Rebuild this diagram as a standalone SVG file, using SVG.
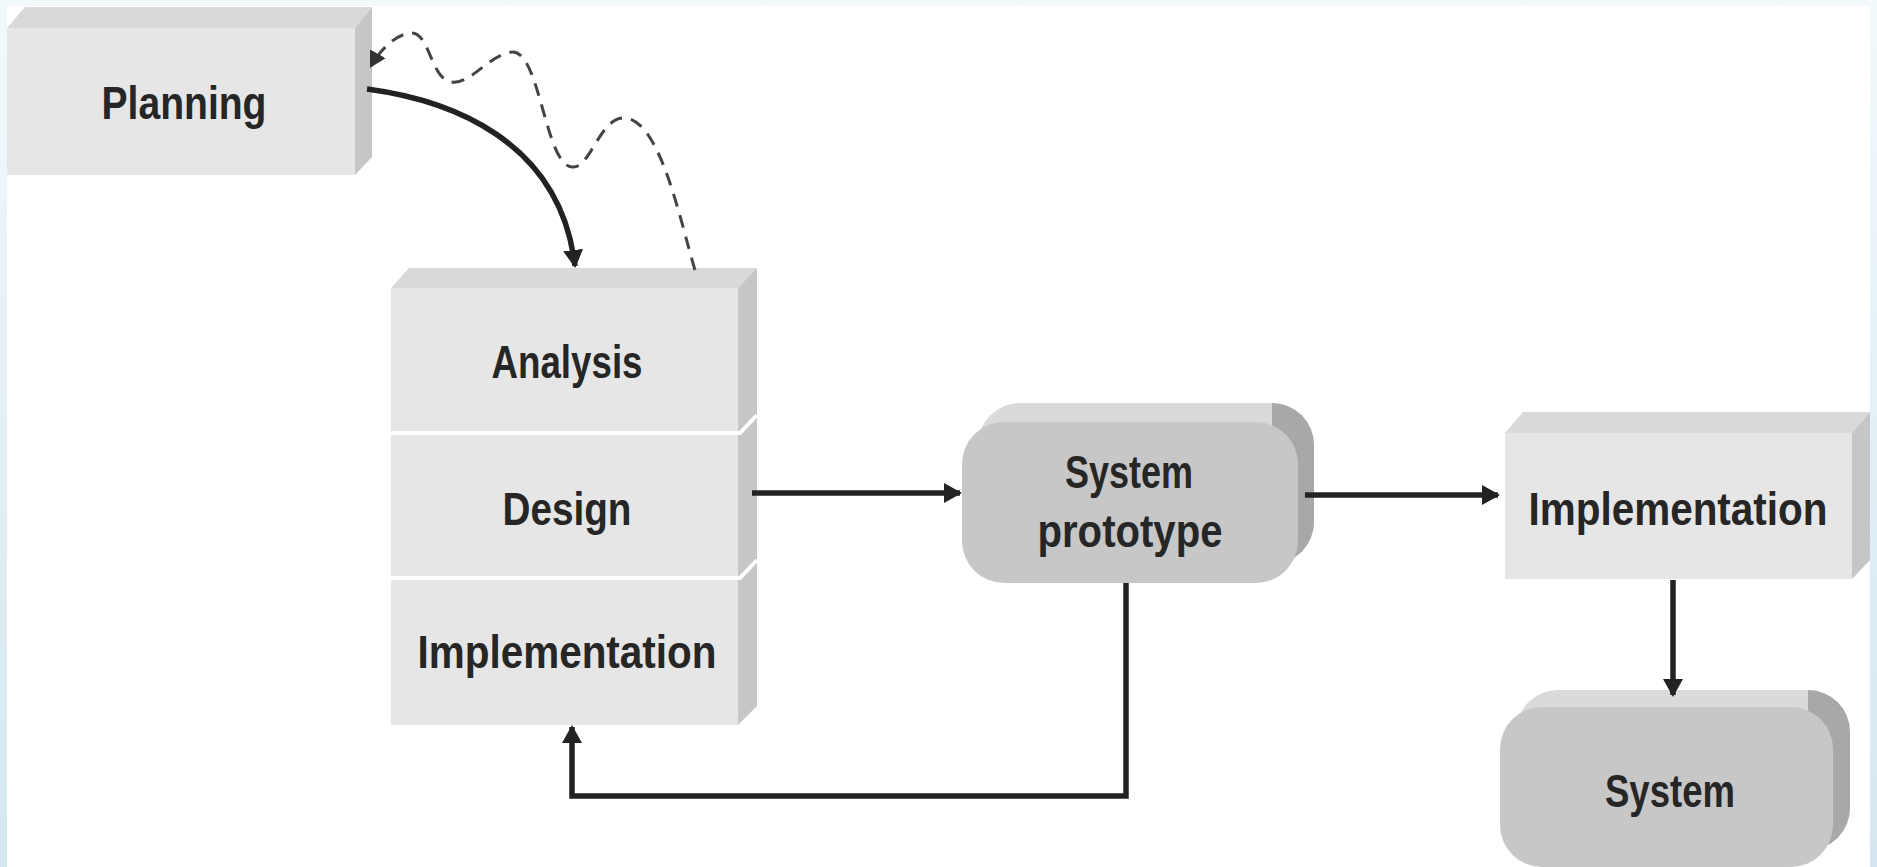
<svg xmlns="http://www.w3.org/2000/svg" width="1877" height="867" viewBox="0 0 1877 867">
  <defs>
    <linearGradient id="frame" x1="0" y1="0" x2="0" y2="1">
      <stop offset="0" stop-color="#f2f9fc"/>
      <stop offset="1" stop-color="#d4e7f0"/>
    </linearGradient>
    <marker id="arrow" markerUnits="userSpaceOnUse" markerWidth="20" markerHeight="20" refX="16" refY="10" orient="auto">
      <path d="M0,0 L18,10 L0,20 z" fill="#222"/>
    </marker>
    <marker id="arrow-dash" markerUnits="userSpaceOnUse" markerWidth="18" markerHeight="18" refX="14" refY="9" orient="auto">
      <path d="M0,0 L16,9 L0,18 z" fill="#333"/>
    </marker>
    <style>
      .front { fill: #e6e6e6; }
      .top { fill: #d9d9d9; }
      .side { fill: #c6c6c6; }
      .rfront { fill: #c7c7c7; }
      .rtop { fill: #dadada; }
      .rside { fill: #a8a8a8; }
      .sep { stroke: #ffffff; stroke-width: 4; fill: none; }
      .label { font-family: "Liberation Sans Narrow", "Liberation Sans", Arial, sans-serif; font-weight: bold; font-size: 46px; fill: #262626; text-anchor: middle; }
      .flow { fill: none; stroke: #222; stroke-width: 5.5; }
      .dash { fill: none; stroke: #444; stroke-width: 3; stroke-dasharray: 13 9; }
    </style>
  </defs>

  <!-- page background with thin tinted frame -->
  <rect x="0" y="0" width="1877" height="867" fill="url(#frame)"/>
  <rect x="7" y="6" width="1863" height="861" fill="#ffffff"/>

  <!-- Planning -->
  <g id="planning">
    <polygon class="top" points="7,28 25,7 372,7 355,28"/>
    <polygon class="side" points="355,28 372,7 372,157 355,175"/>
    <rect class="front" x="7" y="28" width="348" height="147"/>
    <text class="label" x="184" y="119" textLength="165" lengthAdjust="spacingAndGlyphs">Planning</text>
  </g>

  <!-- Analysis / Design / Implementation stack -->
  <g id="stack">
    <polygon class="top" points="391,288 409,268 757,268 738,288"/>
    <polygon class="side" points="738,288 757,268 757,706 738,725"/>
    <rect class="front" x="391" y="288" width="347" height="437"/>
    <path class="sep" d="M391,433 H740 L757,415"/>
    <path class="sep" d="M391,578 H740 L757,560"/>
  </g>
  <g id="analysis">
    <text class="label" x="567" y="378" textLength="151" lengthAdjust="spacingAndGlyphs">Analysis</text>
  </g>
  <g id="design">
    <text class="label" x="567" y="525" textLength="129" lengthAdjust="spacingAndGlyphs">Design</text>
  </g>
  <g id="implementation-iter">
    <text class="label" x="567" y="668" textLength="299" lengthAdjust="spacingAndGlyphs">Implementation</text>
  </g>

  <!-- System prototype -->
  <g id="prototype">
    <rect class="rtop" x="978" y="403" width="336" height="161" rx="42" ry="42"/>
    <path class="rside" d="M1272,403 A42,42 0 0 1 1314,445 V522 A42,42 0 0 1 1272,564 Z"/>
    <rect class="rfront" x="962" y="422" width="336" height="161" rx="42" ry="42"/>
    <text class="label" x="1129" y="488" textLength="128" lengthAdjust="spacingAndGlyphs">System</text>
    <text class="label" x="1130" y="547" textLength="185" lengthAdjust="spacingAndGlyphs">prototype</text>
  </g>

  <!-- Implementation -->
  <g id="implementation">
    <polygon class="top" points="1505,433 1523,412 1870,412 1852,433"/>
    <polygon class="side" points="1852,433 1870,412 1870,560 1852,579"/>
    <rect class="front" x="1505" y="433" width="347" height="146"/>
    <text class="label" x="1678" y="525" textLength="299" lengthAdjust="spacingAndGlyphs">Implementation</text>
  </g>

  <!-- System -->
  <g id="system">
    <rect class="rtop" x="1516" y="690" width="334" height="160" rx="42" ry="42"/>
    <path class="rside" d="M1808,690 A42,42 0 0 1 1850,732 V808 A42,42 0 0 1 1808,850 Z"/>
    <rect class="rfront" x="1500" y="707" width="333" height="160" rx="42" ry="42"/>
    <text class="label" x="1670" y="807" textLength="130" lengthAdjust="spacingAndGlyphs">System</text>
  </g>

  <!-- connectors -->
  <g id="connectors">
    <path class="flow" d="M367,89 C450,100 560,140 575,266" marker-end="url(#arrow)"/>
    <path class="dash" d="M695,270 C680,220 660,120 625,118 C600,116 590,170 572,167 C545,165 540,50 512,52 C490,54 470,85 452,82 C430,80 430,30 410,33 C395,35 380,50 371,66" marker-end="url(#arrow-dash)"/>
    <path class="flow" d="M752,493 H960" marker-end="url(#arrow)"/>
    <path class="flow" d="M1305,495 H1498" marker-end="url(#arrow)"/>
    <path class="flow" d="M1673,580 V695" marker-end="url(#arrow)"/>
    <path class="flow" d="M1126,583 V796 H572 V727" marker-end="url(#arrow)"/>
  </g>
</svg>
